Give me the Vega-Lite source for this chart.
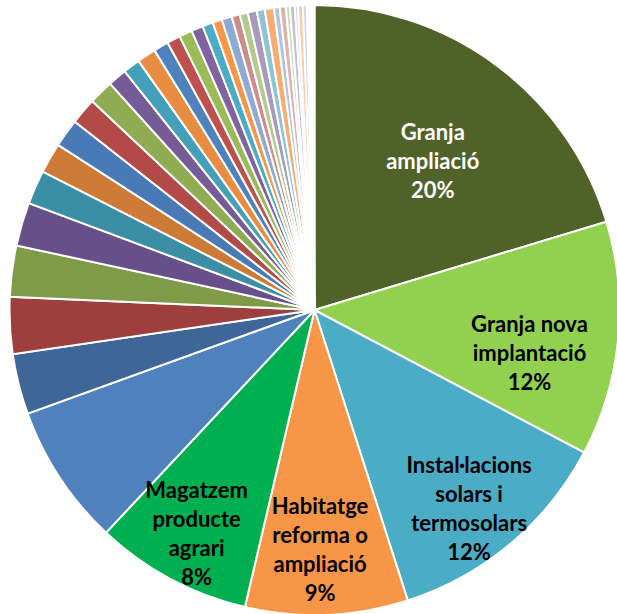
{
  "$schema": "https://vega.github.io/schema/vega-lite/v6.json",
  "width": 605,
  "height": 608,
  "autosize": "none",
  "padding": {"left": 12, "top": 6, "right": 0, "bottom": 0},
  "background": "white",
  "view": {"stroke": null},
  "data": {
    "values": [
      {"i": 1, "cat": "Granja ampliació", "pct": 20.3, "label": "Granja\nampliació\n20%"},
      {"i": 2, "cat": "Granja nova implantació", "pct": 12.4, "label": "Granja nova\nimplantació\n12%"},
      {"i": 3, "cat": "Instal·lacions solars i termosolars", "pct": 12.3, "label": "Instal·lacions\nsolars i\ntermosolars\n12%"},
      {"i": 4, "cat": "Habitatge reforma o ampliació", "pct": 8.6, "label": "Habitatge\nreforma o\nampliació\n9%"},
      {"i": 5, "cat": "Magatzem producte agrari", "pct": 8.3, "label": "Magatzem\nproducte\nagrari\n8%"},
      {"i": 6, "cat": "Altres 6", "pct": 7.5, "label": ""},
      {"i": 7, "cat": "Altres 7", "pct": 3.2, "label": ""},
      {"i": 8, "cat": "Altres 8", "pct": 3.0, "label": ""},
      {"i": 9, "cat": "Altres 9", "pct": 2.7, "label": ""},
      {"i": 10, "cat": "Altres 10", "pct": 2.3, "label": ""},
      {"i": 11, "cat": "Altres 11", "pct": 1.8, "label": ""},
      {"i": 12, "cat": "Altres 12", "pct": 1.6, "label": ""},
      {"i": 13, "cat": "Altres 13", "pct": 1.5, "label": ""},
      {"i": 14, "cat": "Altres 14", "pct": 1.4, "label": ""},
      {"i": 15, "cat": "Altres 15", "pct": 1.3, "label": ""},
      {"i": 16, "cat": "Altres 16", "pct": 1.0, "label": ""},
      {"i": 17, "cat": "Altres 17", "pct": 0.9, "label": ""},
      {"i": 18, "cat": "Altres 18", "pct": 1.0, "label": ""},
      {"i": 19, "cat": "Altres 19", "pct": 0.79, "label": ""},
      {"i": 20, "cat": "Altres 20", "pct": 0.71, "label": ""},
      {"i": 21, "cat": "Altres 21", "pct": 0.69, "label": ""},
      {"i": 22, "cat": "Altres 22", "pct": 0.62, "label": ""},
      {"i": 23, "cat": "Altres 23", "pct": 0.56, "label": ""},
      {"i": 24, "cat": "Altres 24", "pct": 0.5, "label": ""},
      {"i": 25, "cat": "Altres 25", "pct": 0.54, "label": ""},
      {"i": 26, "cat": "Altres 26", "pct": 0.43, "label": ""},
      {"i": 27, "cat": "Altres 27", "pct": 0.43, "label": ""},
      {"i": 28, "cat": "Altres 28", "pct": 0.48, "label": ""},
      {"i": 29, "cat": "Altres 29", "pct": 0.42, "label": ""},
      {"i": 30, "cat": "Altres 30", "pct": 0.48, "label": ""},
      {"i": 31, "cat": "Altres 31", "pct": 0.31, "label": ""},
      {"i": 32, "cat": "Altres 32", "pct": 0.32, "label": ""},
      {"i": 33, "cat": "Altres 33", "pct": 0.21, "label": ""},
      {"i": 34, "cat": "Altres 34", "pct": 0.26, "label": ""},
      {"i": 35, "cat": "Altres 35", "pct": 0.16, "label": ""},
      {"i": 36, "cat": "Altres 36", "pct": 0.26, "label": ""},
      {"i": 37, "cat": "Altres 37", "pct": 0.21, "label": ""},
      {"i": 38, "cat": "Altres 38", "pct": 0.1, "label": ""},
      {"i": 39, "cat": "Altres 39", "pct": 0.1, "label": ""},
      {"i": 40, "cat": "Altres 40", "pct": 0.1, "label": ""},
      {"i": 41, "cat": "Altres 41", "pct": 0.1, "label": ""}
    ]
  },
  "encoding": {
    "theta": {"field": "pct", "type": "quantitative", "stack": true},
    "order": {"field": "i", "type": "quantitative"},
    "detail": {"field": "cat", "type": "nominal"}
  },
  "layer": [
    {
      "mark": {"type": "arc", "outerRadius": 305, "stroke": "white", "strokeWidth": 2},
      "encoding": {
        "color": {
          "field": "cat",
          "type": "nominal",
          "legend": null,
          "scale": {
            "domain": ["Granja ampliació", "Granja nova implantació", "Instal·lacions solars i termosolars", "Habitatge reforma o ampliació", "Magatzem producte agrari", "Altres 6", "Altres 7", "Altres 8", "Altres 9", "Altres 10", "Altres 11", "Altres 12", "Altres 13", "Altres 14", "Altres 15", "Altres 16", "Altres 17", "Altres 18", "Altres 19", "Altres 20", "Altres 21", "Altres 22", "Altres 23", "Altres 24", "Altres 25", "Altres 26", "Altres 27", "Altres 28", "Altres 29", "Altres 30", "Altres 31", "Altres 32", "Altres 33", "Altres 34", "Altres 35", "Altres 36", "Altres 37", "Altres 38", "Altres 39", "Altres 40", "Altres 41"],
            "range": ["#4F6228", "#92D050", "#4BACC6", "#F79646", "#00B050", "#4F81BD", "#3E6696", "#9E3F3D", "#7F9A48", "#67508A", "#3A8FA5", "#CC7A35", "#4A7AB5", "#B24A47", "#8FAC52", "#765C96", "#44A0B9", "#E88C41", "#4F81BD", "#C0504D", "#9BBB59", "#8064A2", "#4BACC6", "#F79646", "#8EA9D2", "#CE8C8A", "#B5CA8D", "#A79ABF", "#8DC5D6", "#F9AC72", "#B3C3DF", "#DDB1B0", "#CBDCB2", "#C6BDD7", "#B8DBE5", "#FBCBA8", "#CBD6E9", "#E9D5D5", "#E3ECD6", "#E0DBE8", "#DCEEF3"]
          }
        }
      }
    },
    {
      "mark": {"type": "text", "radius": 190, "dx": 5, "dy": -24, "font": "Lato", "fontWeight": "bold", "fontSize": 22, "lineHeight": 29, "lineBreak": "\n", "fill": "white", "align": "center", "baseline": "middle"},
      "encoding": {"text": {"condition": {"test": "datum.i == 1", "field": "label", "type": "nominal"}, "value": ""}}
    },
    {
      "mark": {"type": "text", "radius": 219, "dx": -3, "dy": -6, "font": "Lato", "fontWeight": "bold", "fontSize": 22, "lineHeight": 29, "lineBreak": "\n", "fill": "black", "align": "center", "baseline": "middle"},
      "encoding": {"text": {"condition": {"test": "datum.i == 2", "field": "label", "type": "nominal"}, "value": ""}}
    },
    {
      "mark": {"type": "text", "radius": 250, "dx": -6, "dy": -36, "font": "Lato", "fontWeight": "bold", "fontSize": 22, "lineHeight": 29, "lineBreak": "\n", "fill": "black", "align": "center", "baseline": "middle"},
      "encoding": {"text": {"condition": {"test": "datum.i == 3", "field": "label", "type": "nominal"}, "value": ""}}
    },
    {
      "mark": {"type": "text", "radius": 238, "dx": -4, "dy": -41, "font": "Lato", "fontWeight": "bold", "fontSize": 22, "lineHeight": 29, "lineBreak": "\n", "fill": "black", "align": "center", "baseline": "middle"},
      "encoding": {"text": {"condition": {"test": "datum.i == 4", "field": "label", "type": "nominal"}, "value": ""}}
    },
    {
      "mark": {"type": "text", "radius": 252, "dx": 1, "dy": -41, "font": "Lato", "fontWeight": "bold", "fontSize": 22, "lineHeight": 29, "lineBreak": "\n", "fill": "black", "align": "center", "baseline": "middle"},
      "encoding": {"text": {"condition": {"test": "datum.i == 5", "field": "label", "type": "nominal"}, "value": ""}}
    }
  ]
}
